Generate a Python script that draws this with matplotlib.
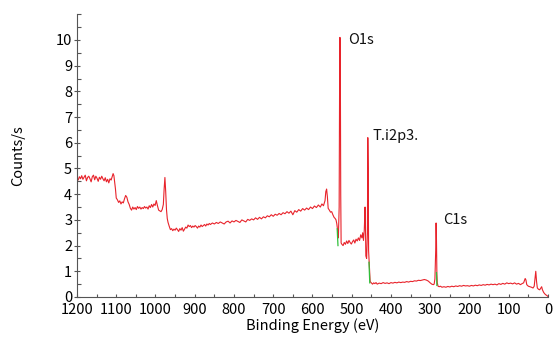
import numpy as np
import matplotlib
matplotlib.use('Agg')
import matplotlib.pyplot as plt
from matplotlib.ticker import MultipleLocator

plt.rcParams['font.family'] = ['Noto Sans CJK KR', 'DejaVu Sans']

# survey spectrum (binding energy in eV, counts/s)
energy = [
    1200, 1197, 1194, 1191, 1188, 1185, 1182, 1179, 1176, 1173, 1170, 1167, 1164, 1161, 1158,
    1155, 1152, 1149, 1146, 1143, 1140, 1137, 1134, 1131, 1128, 1125, 1122, 1119, 1116, 1113,
    1110, 1108, 1106, 1104, 1102, 1100, 1097, 1094, 1091, 1088, 1085, 1082, 1079, 1076, 1073,
    1070, 1067, 1064, 1061, 1058, 1055, 1052, 1049, 1046, 1043, 1040, 1037, 1034, 1031, 1028,
    1025, 1022, 1019, 1016, 1013, 1010, 1007, 1004, 1001, 998, 995, 992, 989, 986, 983,
    980, 978, 976, 974, 972, 970, 968, 965, 962, 959, 956, 953, 950, 947, 944,
    941, 938, 935, 932, 929, 926, 923, 920, 917, 914, 911, 908, 905, 902, 899,
    896, 893, 890, 887, 884, 881, 878, 875, 872, 869, 866, 863, 860, 855, 850,
    845, 840, 835, 830, 825, 820, 815, 810, 805, 800, 795, 790, 785, 780, 775,
    770, 765, 760, 755, 750, 745, 740, 735, 730, 725, 720, 715, 710, 705, 700,
    695, 690, 685, 680, 675, 670, 665, 660, 655, 650, 645, 640, 635, 630, 625,
    620, 615, 610, 605, 600, 595, 590, 585, 580, 576, 572, 568, 566, 564, 562,
    560, 557, 554, 551, 548, 545, 542, 540, 538, 536, 534, 532, 531, 530, 529,
    528, 527, 525, 522, 519, 516, 513, 510, 507, 504, 501, 498, 495, 492, 489,
    486, 483, 480, 477, 474, 472, 470, 468, 466, 465, 464, 462, 460, 459, 458,
    457, 455, 453, 450, 447, 444, 441, 438, 435, 430, 425, 420, 415, 410, 405,
    400, 395, 390, 385, 380, 375, 370, 365, 360, 355, 350, 345, 340, 335, 330,
    325, 320, 315, 310, 305, 300, 296, 292, 290, 288, 286, 285, 284, 283, 282,
    280, 277, 274, 270, 265, 260, 255, 250, 245, 240, 235, 230, 225, 220, 215,
    210, 205, 200, 195, 190, 185, 180, 175, 170, 165, 160, 155, 150, 145, 140,
    135, 130, 125, 120, 115, 110, 105, 100, 95, 90, 85, 80, 75, 70, 66,
    62, 58, 56, 54, 50, 46, 42, 38, 35, 33, 31, 29, 27, 24, 21,
    18, 16, 14, 11, 8, 5, 2, 0,
]
counts = [
    4.62, 4.55, 4.68, 4.60, 4.72, 4.58, 4.66, 4.74, 4.52, 4.65, 4.70, 4.60, 4.48, 4.68, 4.74,
    4.56, 4.70, 4.62, 4.50, 4.66, 4.58, 4.70, 4.60, 4.52, 4.64, 4.48, 4.58, 4.44, 4.60, 4.55,
    4.70, 4.80, 4.72, 4.45, 4.20, 3.85, 3.78, 3.68, 3.74, 3.62, 3.70, 3.66, 3.82, 3.95, 3.88,
    3.70, 3.60, 3.45, 3.38, 3.50, 3.42, 3.48, 3.40, 3.52, 3.45, 3.50, 3.42, 3.48, 3.44, 3.52,
    3.46, 3.50, 3.42, 3.55, 3.48, 3.60, 3.50, 3.62, 3.56, 3.75, 3.55, 3.38, 3.35, 3.32, 3.40,
    3.60, 4.20, 4.65, 4.10, 3.40, 3.05, 2.90, 2.75, 2.62, 2.66, 2.58, 2.64, 2.60, 2.68, 2.62,
    2.55, 2.66, 2.60, 2.70, 2.56, 2.64, 2.72, 2.68, 2.80, 2.74, 2.78, 2.70, 2.76, 2.72, 2.78,
    2.74, 2.68, 2.76, 2.72, 2.80, 2.74, 2.78, 2.82, 2.76, 2.84, 2.80, 2.86, 2.82, 2.88, 2.84,
    2.90, 2.86, 2.92, 2.88, 2.84, 2.92, 2.95, 2.88, 2.96, 2.92, 2.98, 2.94, 2.90, 3.00, 2.96,
    2.92, 3.02, 2.98, 3.04, 3.00, 3.08, 3.02, 3.10, 3.04, 3.12, 3.08, 3.16, 3.12, 3.20, 3.14,
    3.22, 3.18, 3.25, 3.20, 3.28, 3.24, 3.32, 3.26, 3.34, 3.20, 3.36, 3.30, 3.40, 3.34, 3.44,
    3.38, 3.46, 3.40, 3.50, 3.44, 3.54, 3.48, 3.58, 3.50, 3.62, 3.55, 3.75, 4.10, 4.20, 3.90,
    3.45, 3.38, 3.30, 3.32, 3.20, 3.10, 3.05, 3.00, 2.85, 2.60, 2.30, 3.50, 7.80, 10.10, 9.00,
    4.00, 2.10, 2.05, 2.00, 2.12, 2.05, 2.18, 2.08, 2.20, 2.12, 2.06, 2.15, 2.22, 2.10, 2.25,
    2.18, 2.30, 2.20, 2.42, 2.30, 2.50, 2.20, 2.60, 3.50, 2.80, 1.60, 1.50, 2.50, 6.20, 5.00,
    1.80, 1.20, 0.60, 0.55, 0.50, 0.55, 0.52, 0.56, 0.50, 0.54, 0.52, 0.56, 0.53, 0.55, 0.52,
    0.56, 0.54, 0.57, 0.55, 0.58, 0.56, 0.58, 0.57, 0.60, 0.58, 0.61, 0.60, 0.63, 0.62, 0.65,
    0.64, 0.66, 0.68, 0.66, 0.62, 0.55, 0.50, 0.48, 0.50, 0.70, 1.80, 2.88, 2.20, 0.90, 0.55,
    0.42, 0.40, 0.42, 0.38, 0.40, 0.38, 0.41, 0.39, 0.42, 0.40, 0.43, 0.41, 0.44, 0.42, 0.45,
    0.43, 0.44, 0.42, 0.45, 0.43, 0.46, 0.44, 0.47, 0.45, 0.48, 0.46, 0.49, 0.47, 0.50, 0.48,
    0.50, 0.47, 0.52, 0.49, 0.53, 0.50, 0.55, 0.52, 0.54, 0.51, 0.55, 0.50, 0.53, 0.48, 0.52,
    0.55, 0.72, 0.66, 0.48, 0.42, 0.40, 0.38, 0.35, 0.42, 0.70, 1.00, 0.60, 0.35, 0.30, 0.28,
    0.35, 0.40, 0.28, 0.18, 0.12, 0.08, 0.05, 0.02,
]

# green background pieces visible at the steep edges
bg_energy = [537, 535, np.nan, 456, 454, np.nan, 284, 283]
bg_counts = [2.65, 2.00, np.nan, 1.35, 0.55, np.nan, 0.95, 0.45]

peak_labels = ['O1s', 'T.i2p3.', 'C1s']
peak_energy = [510, 446, 267]
peak_counts = [10.0, 6.26, 3.0]

fig = plt.figure(figsize=(5.56, 3.37), dpi=100)
ax = fig.add_axes([0.1385, 0.1187, 0.847, 0.839])

ax.plot(energy, counts, color='#e8232b', lw=0.8, zorder=2)
ax.plot(bg_energy, bg_counts, color='#2fbf3a', lw=0.9, zorder=3)

for lab, e, c in zip(peak_labels, peak_energy, peak_counts):
    ax.text(e, c, lab, fontsize=10.5, ha='left', va='center', color='#111111')

ax.set_xlim(1200, 0)
ax.set_ylim(0, 11)
ax.xaxis.set_major_locator(MultipleLocator(100))
ax.xaxis.set_minor_locator(MultipleLocator(50))
ax.yaxis.set_major_locator(MultipleLocator(1))
ax.yaxis.set_minor_locator(MultipleLocator(0.5))
ax.set_yticks(np.arange(0, 11, 1))

for s in ['top', 'right']:
    ax.spines[s].set_visible(False)
for s in ['left', 'bottom']:
    ax.spines[s].set_color('#555555')
    ax.spines[s].set_linewidth(0.8)

ax.tick_params(axis='y', which='major', direction='inout', length=5, width=0.8,
               color='#555555', labelsize=10.5, pad=1)
ax.tick_params(axis='y', which='minor', direction='in', length=3, width=0.8, color='#555555')
ax.tick_params(axis='x', which='both', direction='in', length=2.5, width=0.8,
               color='#555555', labelsize=10.5, pad=4)

ax.set_xlabel('Binding Energy (eV)', fontsize=10.5, labelpad=1)
ax.set_ylabel('Counts/s', fontsize=10.5, labelpad=22)

fig.savefig('out.png', dpi=100)
